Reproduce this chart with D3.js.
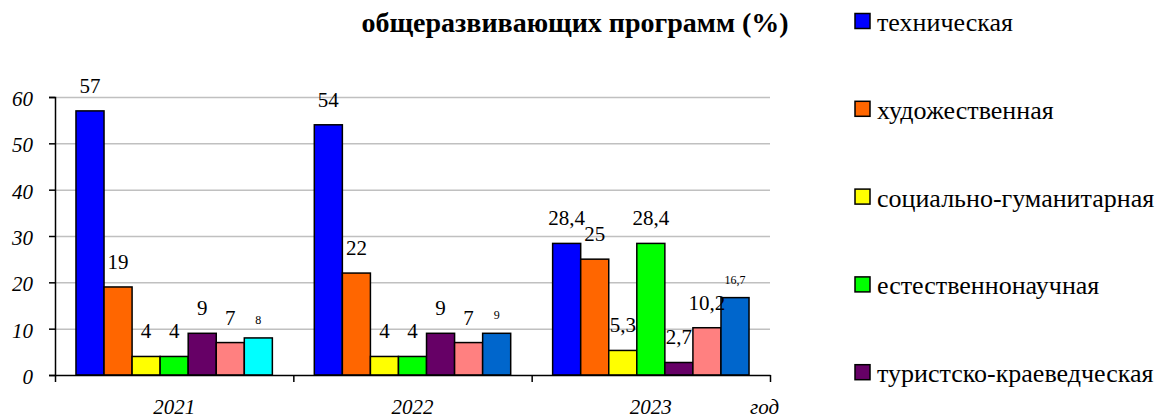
<!DOCTYPE html>
<html>
<head>
<meta charset="utf-8">
<script src="https://cdn.jsdelivr.net/npm/d3@7"></script>
<style>
  body { margin: 0; background: #fff; }
  svg text { font-family: "Liberation Serif", "Times New Roman", serif; }
  .grid line { stroke: #c0c0c0; stroke-width: 1.5; }
  .grid .domain { display: none; }
  .axis text { font-style: italic; font-size: 21px; fill: #000; }
  .axis line, .axis path { stroke: #000; stroke-width: 1.5; }
  .bar { stroke: #000; stroke-width: 1.5; }
  .value { font-size: 21px; fill: #000; text-anchor: middle; }
  .legend text { font-size: 26px; fill: #000; }
  .chart-title { font-size: 28px; font-weight: bold; fill: #000; }
</style>
</head>
<body>
<svg width="1160" height="416"></svg>
<script>
const years = ["2021", "2022", "2023"]
const seriesNames = [
  "техническая",
  "художественная",
  "социально-гуманитарная",
  "естественнонаучная",
  "туристско-краеведческая",
  "физкультурно-спортивная",
  "другие"
]
const technical = [57, 54, 28.4]
const artistic = [19, 22, 25]
const social = [4, 4, 5.3]
const science = [4, 4, 28.4]
const tourism = [9, 9, 2.7]
const sport = [7, 7, 10.2]
const other = [8, 9, 16.7]
const seriesValues = [technical, artistic, social, science, tourism, sport, other]
const yTicks = [0, 10, 20, 30, 40, 50, 60]

const colors = ["#0000FF", "#FF6600", "#FFFF00", "#00FF00", "#660066", "#FF8080", "#0066CC"]
// 2021 bar of the last series is drawn in cyan in the original
const pointColor = { "0-6": "#00FFFF" }

const svg = d3.select("svg")
const margin = { top: 97, right: 390, bottom: 41, left: 55 }
const width = +svg.attr("width")
const height = +svg.attr("height")
const innerWidth = width - margin.left - margin.right
const innerHeight = height - margin.top - margin.bottom

const g = svg.append("g").attr("transform", `translate(${margin.left},${margin.top})`)

const yScale = d3.scaleLinear().domain([0, 60]).range([innerHeight, 0])
const x0 = d3.scaleBand().domain(years).range([0, innerWidth])
const gap = x0.bandwidth() * 0.088
const x1 = d3.scaleBand().domain(d3.range(seriesNames.length)).range([gap, x0.bandwidth() - gap])

// gridlines
const gridG = g.append("g")
  .attr("class", "grid")
  .call(d3.axisLeft(yScale).tickValues(yTicks.slice(1)).tickSize(-innerWidth).tickFormat(""))
gridG.selectAll("text").remove()

// bars
const rows = []
years.forEach((year, i) => {
  seriesValues.forEach((vals, s) => {
    rows.push({ year, i, s, value: vals[i] })
  })
})

g.selectAll(".bar")
  .data(rows)
  .join("rect")
  .attr("class", "bar")
  .attr("x", (d) => x0(d.year) + x1(d.s))
  .attr("width", x1.bandwidth())
  .attr("y", (d) => yScale(d.value))
  .attr("height", (d) => innerHeight - yScale(d.value))
  .attr("fill", (d) => pointColor[`${d.i}-${d.s}`] || colors[d.s])

// value labels (last series uses a small font)
const fmt = (v) => String(v).replace(".", ",")
g.selectAll(".value")
  .data(rows)
  .join("text")
  .attr("class", "value")
  .attr("x", (d) => x0(d.year) + x1(d.s) + x1.bandwidth() / 2)
  .attr("y", (d) => yScale(d.value) - (d.s === 6 ? 14 : 18))
  .style("font-size", (d) => (d.s === 6 ? "12px" : null))
  .text((d) => fmt(d.value))

// y axis
const yAxisG = g.append("g")
  .attr("class", "axis")
  .call(d3.axisLeft(yScale).tickValues(yTicks).tickSize(6).tickPadding(16))
yAxisG.attr("font-family", null)
yAxisG.selectAll("text").attr("dy", "0.4em")

// x axis: ticks on category boundaries, labels under the centres
const edge = d3.scaleLinear().domain([0, years.length]).range([0, innerWidth])
const edgeG = g.append("g")
  .attr("class", "axis")
  .attr("transform", `translate(0,${innerHeight})`)
  .call(d3.axisBottom(edge).tickValues(d3.range(years.length + 1)).tickSize(7).tickFormat("").tickSizeOuter(0))
edgeG.selectAll("text").remove()

const xAxisG = g.append("g")
  .attr("class", "axis")
  .attr("transform", `translate(0,${innerHeight})`)
  .call(d3.axisBottom(x0).tickSize(0).tickPadding(24))
xAxisG.attr("font-family", null)
xAxisG.select(".domain").remove()

xAxisG.append("text")
  .attr("x", innerWidth - 20)
  .attr("y", 39)
  .attr("text-anchor", "start")
  .text("год")

// title (first line is cut off in the original)
svg.append("text")
  .attr("class", "chart-title")
  .attr("x", 575)
  .attr("y", 32)
  .attr("text-anchor", "middle")
  .text("общеразвивающих программ (%)")

// legend: only the entries that fit in the picture
const legendStep = 87.8
const shown = seriesNames.filter((d, i) => 21 + i * legendStep < height)
const legend = svg.append("g").attr("class", "legend")
  .attr("transform", "translate(855,21)")
const item = legend.selectAll("g")
  .data(shown)
  .join("g")
  .attr("transform", (d, i) => `translate(0,${i * legendStep})`)
item.append("rect")
  .attr("x", 0)
  .attr("y", -7.5)
  .attr("width", 15)
  .attr("height", 15)
  .attr("fill", (d, i) => colors[i])
  .attr("stroke", "#000")
  .attr("stroke-width", 1.5)
item.append("text")
  .attr("x", 22)
  .attr("y", 10)
  .text((d) => d)
</script>
</body>
</html>
